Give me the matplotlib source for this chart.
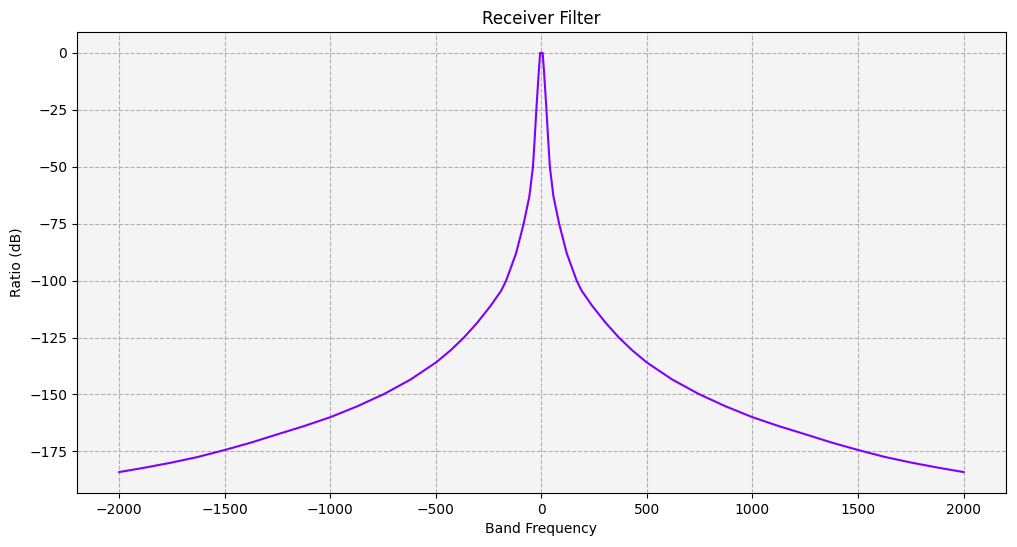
import matplotlib
matplotlib.use("Agg")
from matplotlib import pyplot as plt

# response, positive half (curve is symmetric)
freq_pos = [0, 6, 13, 24, 32, 40, 57, 84, 120, 167, 191, 240, 304, 367, 430, 500,
            619, 745, 872, 1000, 1124, 1250, 1377, 1500, 1629, 1755, 1881, 2000]
db_pos = [0, 0, -9, -25, -38, -50, -63, -75, -88, -100, -104.5, -111, -118.5, -125, -130.6, -136,
          -143.4, -149.8, -155.2, -160, -163.9, -167.5, -171.2, -174.4, -177.5, -180, -182.2, -184.1]

freq = [-f for f in freq_pos[::-1]] + freq_pos[1:]
ratio_db = db_pos[::-1] + db_pos[1:]

x_ticks = list(range(-2000, 2001, 500))
y_ticks = list(range(-175, 1, 25))

fig = plt.figure(figsize=(10.17, 5.47), dpi=100)
ax = fig.add_axes([0.0757, 0.0987, 0.9133, 0.8428])
ax.set_facecolor('#f4f4f4')
ax.plot(freq, ratio_db, color='#8000ff', linewidth=1.5)
ax.set_xticks(x_ticks)
ax.set_yticks(y_ticks)
ax.grid(True, linestyle='--', color='#b0b0b0')
ax.set_axisbelow(True)
ax.set_title('Receiver Filter')
ax.set_xlabel('Band Frequency')
ax.set_ylabel('Ratio (dB)')
fig.savefig('out.png')
